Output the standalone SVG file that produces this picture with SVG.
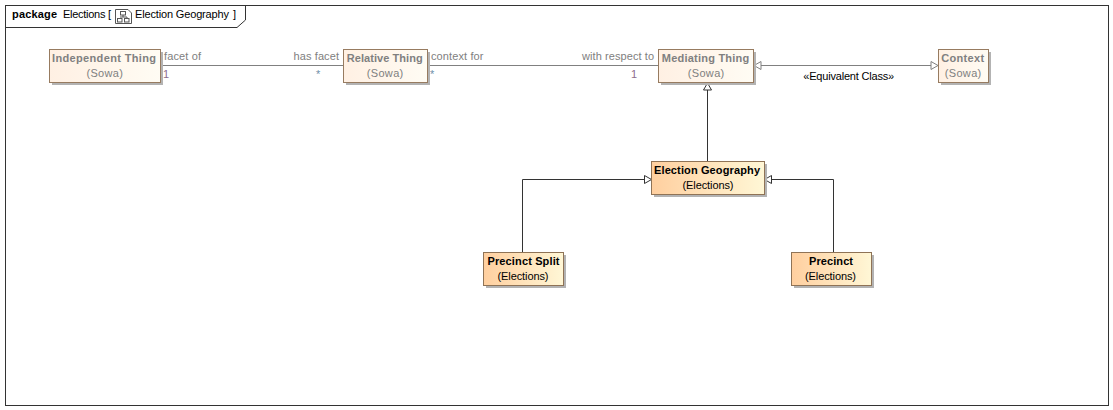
<svg xmlns="http://www.w3.org/2000/svg" width="1113" height="410" viewBox="0 0 1113 410">
<style>
text{font-family:"Liberation Sans",Arial,sans-serif;font-size:11px;text-anchor:middle;fill:#000}
.frame{fill:none;stroke:#333;stroke-width:1}
.shadow{fill:#b3b3b3}
.nb{stroke:#8f7356;stroke-width:1}
.sowa .nb{fill:url(#sg);stroke:#977b60}
.el .nb{fill:url(#eg)}
.b{font-weight:bold}
.sowa text{fill:#808080}
.lbl{fill:#808080;text-anchor:start}
.e{text-anchor:end}
.mult{fill:#8c6d8c;text-anchor:start}
.star{fill:#6f8fa8;text-anchor:start}
.s{text-anchor:start}
.c1{fill:none;stroke:#333;stroke-width:1}
.c2{fill:none;stroke:#808080;stroke-width:1}
.h1{fill:#fff;stroke:#333;stroke-width:1}
.h2{fill:#fff;stroke:#808080;stroke-width:1}
</style>
<defs>
<linearGradient id="sg" x1="0" x2="1" y1="0" y2="0"><stop offset="0" stop-color="#fff0e3"/><stop offset="1" stop-color="#fffcf4"/></linearGradient>
<linearGradient id="eg" x1="0" x2="1" y1="0" y2="0"><stop offset="0" stop-color="#ffcf9f"/><stop offset="1" stop-color="#fff7d6"/></linearGradient>
</defs>
<rect width="1113" height="410" fill="#fff"/>
<g id="frame">
<rect class="frame" x="5.500" y="5.500" width="1103" height="400"/>
<path class="frame" d="M5.500 27.500H237L245.500 20V5.500"/>
<text class="s b" x="12" y="18" textLength="45">package</text>
<text class="s" x="63" y="18" textLength="48">Elections [</text>
<g fill="none" stroke="#555" stroke-width="1"><path d="M115.500 9.500H128L131.500 13V23.500H115.500Z"/><rect x="120.500" y="11.500" width="5" height="3.500"/><rect x="117.500" y="18.500" width="4.500" height="3.500"/><rect x="124.500" y="18.500" width="4.500" height="3.500"/><path d="M123 15V17H120M123 17H127V18"/></g>
<text class="s" x="135" y="18" textLength="94">Election Geography</text>
<text class="s" x="233" y="18">]</text>
</g>
<g id="connectors">
<path class="c2" d="M160.500 65.500H343.500"/>
<path class="c2" d="M427.500 65.500H658.500"/>
<path class="c2" d="M761 65.500H931"/>
<polygon class="h2" points="754,65.500 761,61.500 761,69.500"/>
<polygon class="h2" points="938,65.500 931,61.500 931,69.500"/>
<path class="c1" d="M707.500 161.500V90"/>
<polygon class="h1" points="707.500,83 703.500,90 711.500,90"/>
<path class="c1" d="M522.500 252.500V179.500H644.500"/>
<polygon class="h1" points="651.500,179.500 644.500,175.500 644.500,183.500"/>
<path class="c1" d="M833.500 252.500V179.500H771.500"/>
<polygon class="h1" points="764.500,179.500 771.500,175.500 771.500,183.500"/>
<text class="lbl" x="164" y="60" textLength="37">facet of</text>
<text class="lbl" x="293.500" y="60" textLength="45.500">has facet</text>
<text class="mult" x="163" y="78">1</text>
<text class="star" x="316" y="78">*</text>
<text class="lbl" x="431" y="60" textLength="52.500">context for</text>
<text class="lbl" x="582" y="60" textLength="72">with respect to</text>
<text class="star" x="430" y="78">*</text>
<text class="mult" x="631" y="78">1</text>
<text x="848.700" y="80" textLength="91">«Equivalent Class»</text>
</g>
<g id="independent-thing" class="sowa"><rect class="shadow" x="52" y="52" width="111" height="33"/><rect class="nb" x="49.500" y="49.500" width="111" height="33"/><text class="b" x="104" y="62" textLength="104">Independent Thing</text><text x="104.700" y="77" textLength="36.500">(Sowa)</text></g>
<g id="relative-thing" class="sowa"><rect class="shadow" x="346" y="52" width="84" height="33"/><rect class="nb" x="343.500" y="49.500" width="84" height="33"/><text class="b" x="384.700" y="62" textLength="76">Relative Thing</text><text x="385" y="77" textLength="36.500">(Sowa)</text></g>
<g id="mediating-thing" class="sowa"><rect class="shadow" x="661" y="52" width="95" height="33"/><rect class="nb" x="658.500" y="49.500" width="95" height="33"/><text class="b" x="705.500" y="62" textLength="87.500">Mediating Thing</text><text x="706" y="77" textLength="36.500">(Sowa)</text></g>
<g id="context" class="sowa"><rect class="shadow" x="941" y="52" width="50" height="33"/><rect class="nb" x="938.500" y="49.500" width="50" height="33"/><text class="b" x="962.700" y="62" textLength="43">Context</text><text x="963" y="77" textLength="36.500">(Sowa)</text></g>
<g id="election-geography" class="el"><rect class="shadow" x="654" y="164" width="113" height="33"/><rect class="nb" x="651.500" y="161.500" width="113" height="33"/><text class="b" x="707" y="174" textLength="106">Election Geography</text><text x="708" y="189" textLength="51">(Elections)</text></g>
<g id="precinct-split" class="el"><rect class="shadow" x="486" y="255" width="80" height="33"/><rect class="nb" x="483.500" y="252.500" width="80" height="33"/><text class="b" x="523.500" y="265" textLength="72">Precinct Split</text><text x="523" y="280" textLength="51">(Elections)</text></g>
<g id="precinct" class="el"><rect class="shadow" x="794" y="255" width="80" height="33"/><rect class="nb" x="791.500" y="252.500" width="80" height="33"/><text class="b" x="831" y="265" textLength="44">Precinct</text><text x="830.500" y="280" textLength="51">(Elections)</text></g>
</svg>
